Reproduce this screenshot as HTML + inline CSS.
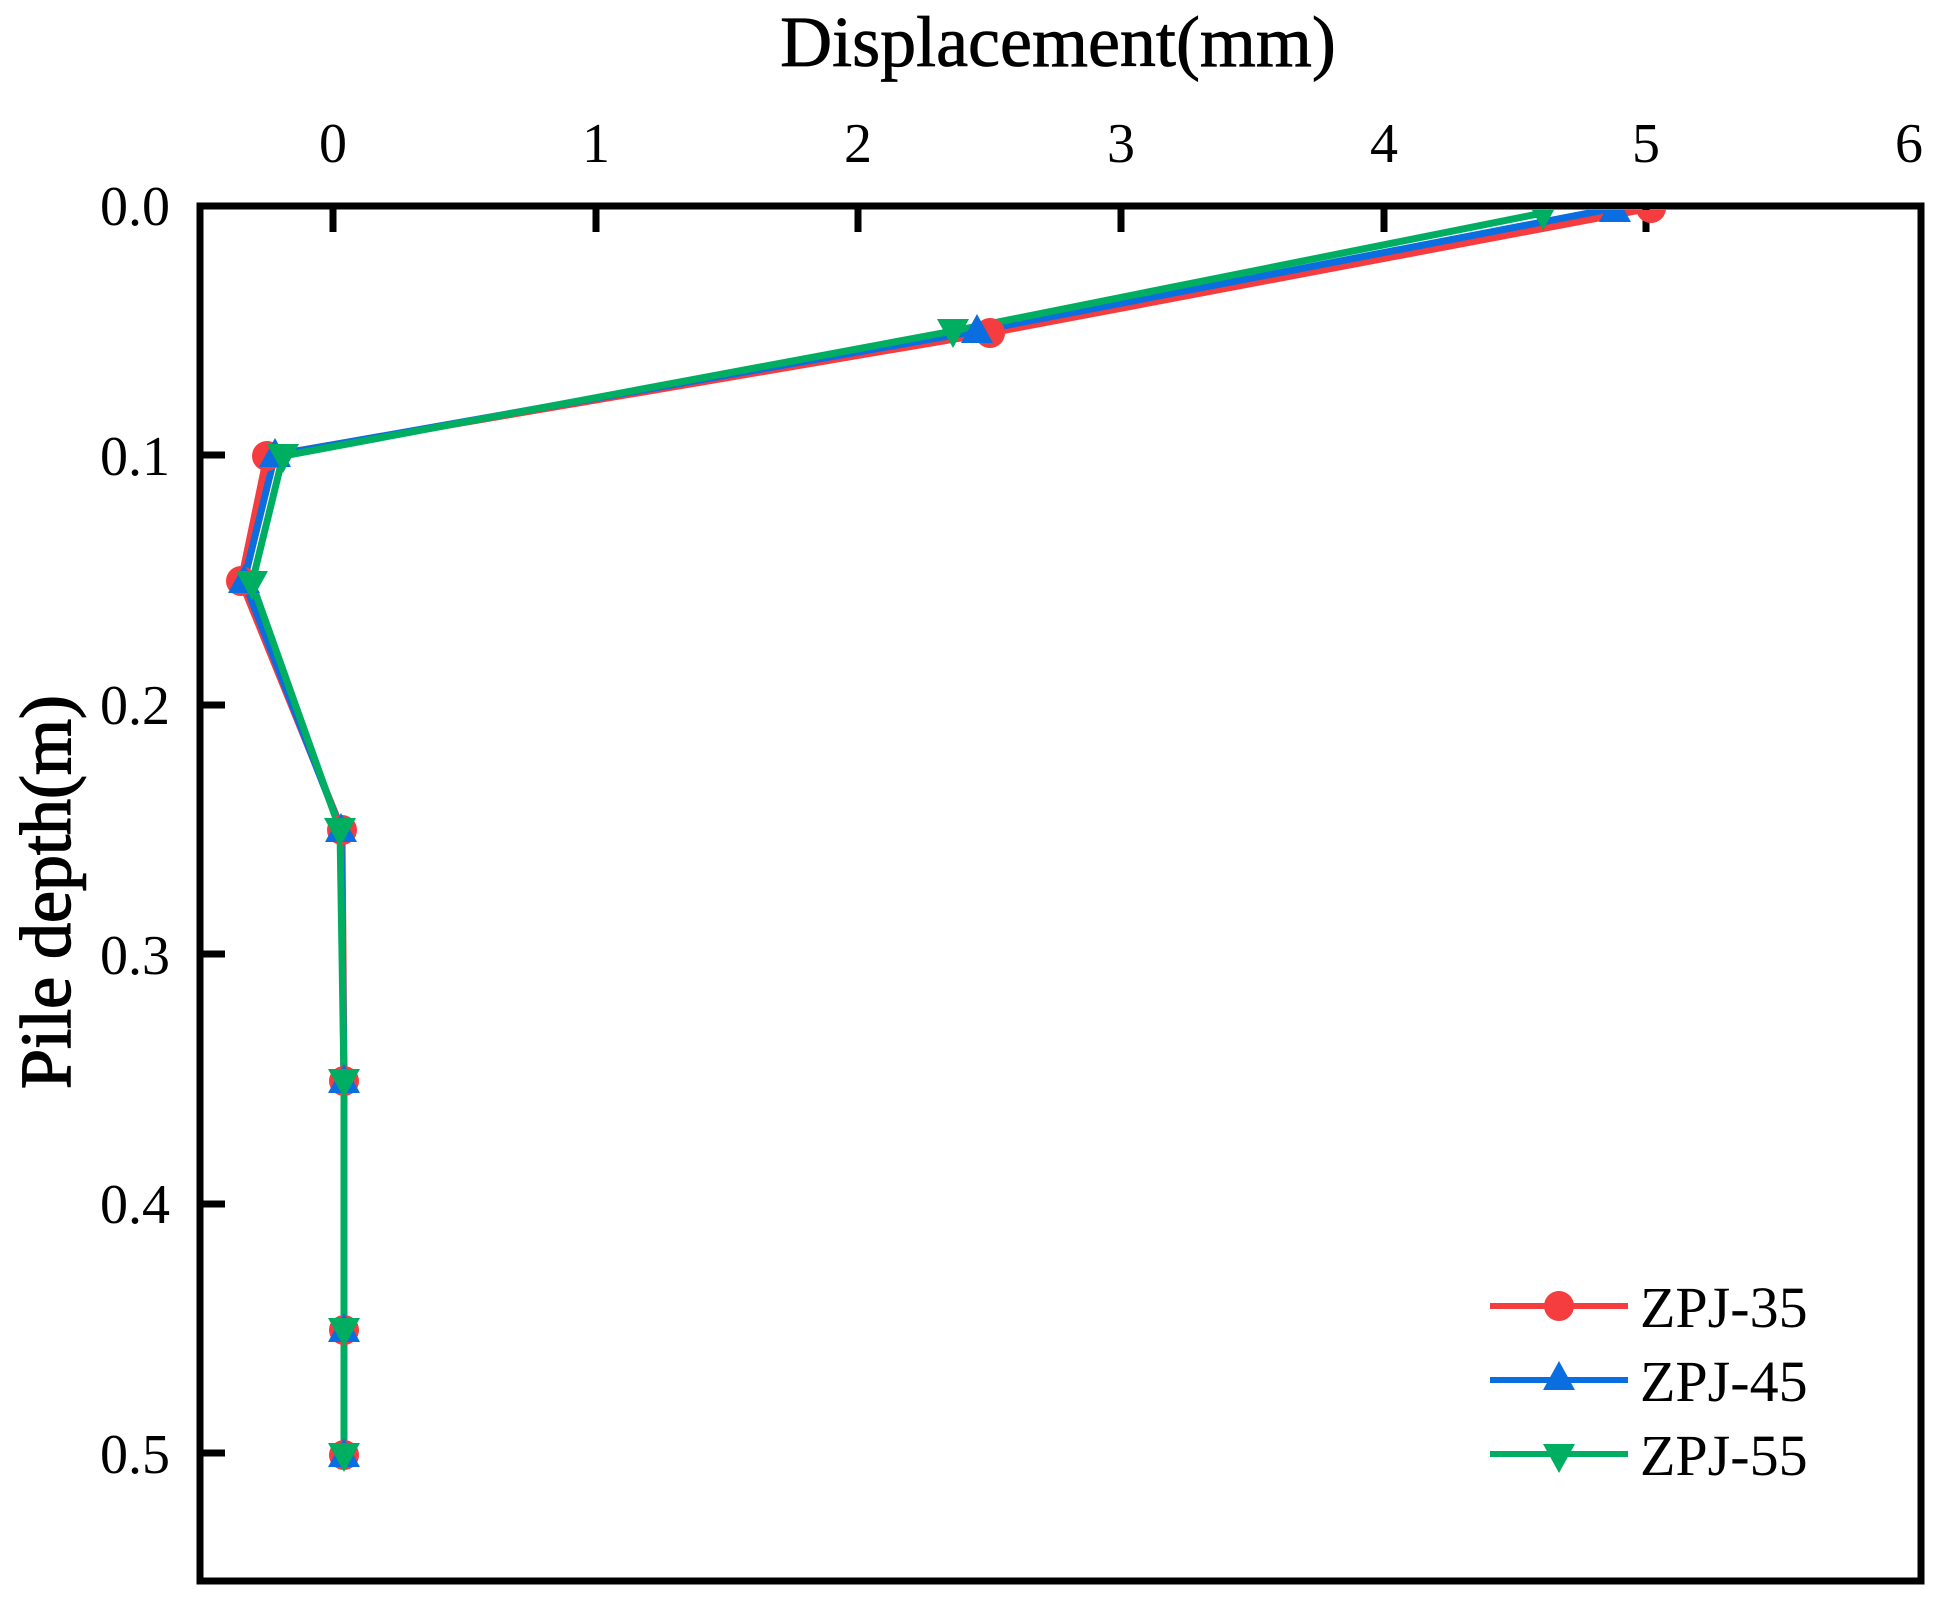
<!DOCTYPE html>
<html><head><meta charset="utf-8"><style>
html,body{margin:0;padding:0;background:#fff;}
svg{display:block;font-family:"Liberation Serif",serif;}
</style></head><body>
<svg width="1942" height="1612" viewBox="0 0 1942 1612" xmlns="http://www.w3.org/2000/svg">
<defs>
<clipPath id="c"><rect x="204" y="210" width="1713" height="1367"/></clipPath>
<circle id="mc" r="15" fill="#f53c3e"/>
<polygon id="mu" points="0,-17 16,12 -16,12" fill="#0a6ee0"/>
<polygon id="md" points="0,17 16,-12 -16,-12" fill="#00ae62"/>
</defs>
<text x="1058" y="66" font-size="72" text-anchor="middle" stroke="#000" stroke-width="0.8">Displacement(mm)</text>
<text transform="translate(70,892) rotate(-90)" font-size="72" text-anchor="middle" stroke="#000" stroke-width="1.5">Pile depth(m)</text>
<g font-size="56" text-anchor="middle">
<text x="333" y="162">0</text><text x="596" y="162">1</text><text x="858" y="162">2</text>
<text x="1121" y="162">3</text><text x="1384" y="162">4</text><text x="1646" y="162">5</text><text x="1909" y="162">6</text>
</g>
<g font-size="56" text-anchor="end">
<text x="170" y="225">0.0</text><text x="170" y="475">0.1</text><text x="170" y="724">0.2</text>
<text x="170" y="974">0.3</text><text x="170" y="1223">0.4</text><text x="170" y="1473">0.5</text>
</g>
<g stroke="#000" stroke-width="7">
<line x1="333" y1="206" x2="333" y2="232"/><line x1="596" y1="206" x2="596" y2="232"/><line x1="858" y1="206" x2="858" y2="232"/>
<line x1="1121" y1="206" x2="1121" y2="232"/><line x1="1384" y1="206" x2="1384" y2="232"/><line x1="1646" y1="206" x2="1646" y2="232"/>
<line x1="200" y1="455" x2="225" y2="455"/><line x1="200" y1="705" x2="225" y2="705"/><line x1="200" y1="954" x2="225" y2="954"/>
<line x1="200" y1="1204" x2="225" y2="1204"/><line x1="200" y1="1453" x2="225" y2="1453"/>
</g>
<g clip-path="url(#c)" fill="none" stroke-width="7" stroke-linejoin="round">
<polyline stroke="#f53c3e" points="1651,208 990,333 267,456 241,581 342,830 344,1081 344,1330 344,1455"/>
<polyline stroke="#0a6ee0" points="1615,208 977,331 275,455 244,581 341,830 344,1081 344,1330 344,1455"/>
<polyline stroke="#00ae62" points="1543,213 953,331 283,456 252,583 340,830 344,1081 344,1330 344,1455"/>
<g>
<use href="#mc" x="1651" y="208"/><use href="#mc" x="990" y="333"/><use href="#mc" x="267" y="456"/><use href="#mc" x="241" y="581"/>
<use href="#mc" x="342" y="830"/><use href="#mc" x="344" y="1081"/><use href="#mc" x="344" y="1330"/><use href="#mc" x="344" y="1455"/>
<use href="#mu" x="1615" y="210"/><use href="#mu" x="977" y="331"/><use href="#mu" x="275" y="455"/><use href="#mu" x="244" y="581"/>
<use href="#mu" x="341" y="830"/><use href="#mu" x="344" y="1081"/><use href="#mu" x="344" y="1330"/><use href="#mu" x="344" y="1455"/>
<use href="#md" x="1543" y="213"/><use href="#md" x="953" y="331"/><use href="#md" x="283" y="456"/><use href="#md" x="252" y="583"/>
<use href="#md" x="340" y="830"/><use href="#md" x="344" y="1081"/><use href="#md" x="344" y="1330"/><use href="#md" x="344" y="1455"/>
</g>
</g>
<rect x="200" y="206" width="1721" height="1375" fill="none" stroke="#000" stroke-width="7"/>
<g stroke-width="6">
<line x1="1490" y1="1306" x2="1628" y2="1306" stroke="#f53c3e"/>
<line x1="1490" y1="1380" x2="1628" y2="1380" stroke="#0a6ee0"/>
<line x1="1490" y1="1454" x2="1628" y2="1454" stroke="#00ae62"/>
</g>
<use href="#mc" x="1559" y="1306"/><use href="#mu" x="1559" y="1378"/><use href="#md" x="1559" y="1456"/>
<g font-size="58">
<text x="1640" y="1327">ZPJ-35</text><text x="1640" y="1401">ZPJ-45</text><text x="1640" y="1475">ZPJ-55</text>
</g>
</svg>
</body></html>
